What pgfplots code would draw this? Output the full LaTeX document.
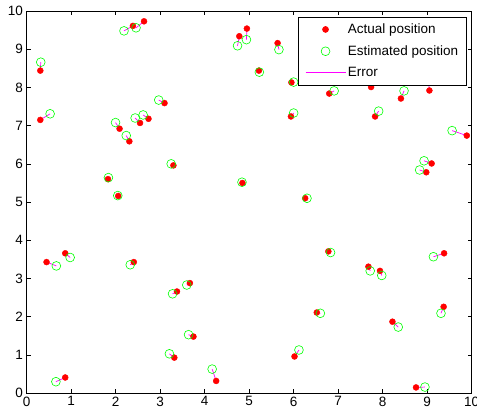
\documentclass[border=0pt]{standalone}
\usepackage{pgfplots}
\pgfplotsset{compat=1.18}
\usepackage{pgfplotstable}
\usepackage{fontspec}
\setmainfont{Liberation Sans}
\definecolor{errcol}{RGB}{255,0,255}
\definecolor{actcol}{RGB}{255,0,0}
\definecolor{estcol}{RGB}{0,255,0}

% actual (xa,ya) and estimated (xe,ye) positions
\pgfplotstableread{
xa ya xe ye
0.31 8.44 0.32 8.66
0.31 7.15 0.53 7.31
2.39 9.61 2.19 9.48
2.64 9.73 2.46 9.56
2.09 6.92 2.00 7.08
2.55 7.07 2.44 7.20
2.74 7.18 2.62 7.28
3.10 7.59 2.97 7.67
2.31 6.59 2.24 6.74
4.78 9.34 4.74 9.09
4.95 9.54 4.94 9.25
5.64 9.16 5.67 8.99
5.22 8.44 5.23 8.40
5.95 8.13 6.00 8.14
5.94 7.24 6.00 7.33
6.80 7.84 6.91 7.91
7.74 8.01 7.76 8.22
8.41 7.71 8.48 7.91
9.05 7.92 9.02 8.24
7.83 7.24 7.91 7.38
9.89 6.74 9.56 6.87
1.83 5.60 1.84 5.64
2.06 5.16 2.05 5.17
0.45 3.43 0.67 3.33
0.87 3.66 0.98 3.55
2.41 3.43 2.33 3.36
3.30 5.96 3.25 6.00
4.85 5.50 4.84 5.52
6.26 5.10 6.30 5.10
9.10 6.01 8.93 6.08
8.98 5.78 8.83 5.84
6.78 3.71 6.83 3.68
9.38 3.66 9.14 3.57
0.87 0.41 0.66 0.30
3.67 2.88 3.60 2.83
3.38 2.66 3.28 2.60
3.75 1.48 3.64 1.53
3.32 0.93 3.21 1.03
4.26 0.32 4.17 0.63
6.02 0.96 6.12 1.13
6.52 2.11 6.60 2.09
7.68 3.31 7.72 3.20
7.94 3.20 7.98 3.08
8.22 1.87 8.35 1.73
9.37 2.26 9.31 2.09
8.75 0.15 8.95 0.16
}\posdata

% error segments, actual -> estimated, split by nan rows
\pgfplotstableread{
x y
0.31 8.44
0.32 8.66
nan nan
0.31 7.15
0.53 7.31
nan nan
2.39 9.61
2.19 9.48
nan nan
2.64 9.73
2.46 9.56
nan nan
2.09 6.92
2.00 7.08
nan nan
2.55 7.07
2.44 7.20
nan nan
2.74 7.18
2.62 7.28
nan nan
3.10 7.59
2.97 7.67
nan nan
2.31 6.59
2.24 6.74
nan nan
4.78 9.34
4.74 9.09
nan nan
4.95 9.54
4.94 9.25
nan nan
5.64 9.16
5.67 8.99
nan nan
5.22 8.44
5.23 8.40
nan nan
5.95 8.13
6.00 8.14
nan nan
5.94 7.24
6.00 7.33
nan nan
6.80 7.84
6.91 7.91
nan nan
7.74 8.01
7.76 8.22
nan nan
8.41 7.71
8.48 7.91
nan nan
9.05 7.92
9.02 8.24
nan nan
7.83 7.24
7.91 7.38
nan nan
9.89 6.74
9.56 6.87
nan nan
1.83 5.60
1.84 5.64
nan nan
2.06 5.16
2.05 5.17
nan nan
0.45 3.43
0.67 3.33
nan nan
0.87 3.66
0.98 3.55
nan nan
2.41 3.43
2.33 3.36
nan nan
3.30 5.96
3.25 6.00
nan nan
4.85 5.50
4.84 5.52
nan nan
6.26 5.10
6.30 5.10
nan nan
9.10 6.01
8.93 6.08
nan nan
8.98 5.78
8.83 5.84
nan nan
6.78 3.71
6.83 3.68
nan nan
9.38 3.66
9.14 3.57
nan nan
0.87 0.41
0.66 0.30
nan nan
3.67 2.88
3.60 2.83
nan nan
3.38 2.66
3.28 2.60
nan nan
3.75 1.48
3.64 1.53
nan nan
3.32 0.93
3.21 1.03
nan nan
4.26 0.32
4.17 0.63
nan nan
6.02 0.96
6.12 1.13
nan nan
6.52 2.11
6.60 2.09
nan nan
7.68 3.31
7.72 3.20
nan nan
7.94 3.20
7.98 3.08
nan nan
8.22 1.87
8.35 1.73
nan nan
9.37 2.26
9.31 2.09
nan nan
8.75 0.15
8.95 0.16
}\errdata

\begin{document}
\begin{tikzpicture}
\begin{axis}[
    scale only axis,
    width=445pt, height=382pt,
    xmin=0, xmax=10, ymin=0, ymax=10,
    xtick={0,...,10}, ytick={0,...,10},
    tick align=inside,
    major tick length=4pt,
    tick style={black, line width=0.5pt},
    axis line style={line width=0.6pt},
    ticklabel style={font=\fontsize{13.5}{16}\selectfont},
    /pgf/number format/assume math mode=true,
    unbounded coords=jump,
    legend style={at={(1,1)}, anchor=north east, xshift=-4.7pt, yshift=-5.5pt,
        font=\fontsize{13.5}{16}\selectfont, draw=black, line width=0.6pt,
        row sep=6.5pt, inner xsep=6.5pt, inner ysep=5pt},
    legend cell align=left,
    legend image code/.code={\draw[mark repeat=2,mark phase=2,#1]
        plot coordinates {(0pt,0pt)(20pt,0pt)(40pt,0pt)};},
]
\addplot[only marks, mark=*, mark size=3pt, color=actcol, mark options={draw=actcol, fill=actcol}]
    table[x=xa, y=ya] {\posdata};
\addlegendentry{Actual position}
\addplot[only marks, mark=o, mark size=4.4pt, color=estcol, mark options={draw=estcol, line width=0.6pt}]
    table[x=xe, y=ye] {\posdata};
\addlegendentry{Estimated position}
\addplot[draw=errcol, line width=0.7pt, no marks,
    legend image code/.code={\draw[draw=errcol, line width=0.6pt] (0pt,0pt) -- (40pt,0pt);}]
    table[x=x, y=y] {\errdata};
\addlegendentry{Error}
\end{axis}
\pgfresetboundingbox
\path ([xshift=-26.5pt, yshift=-22pt]current axis.south west)
    rectangle ([xshift=5.3pt, yshift=11pt]current axis.north east);
\end{tikzpicture}
\end{document}
